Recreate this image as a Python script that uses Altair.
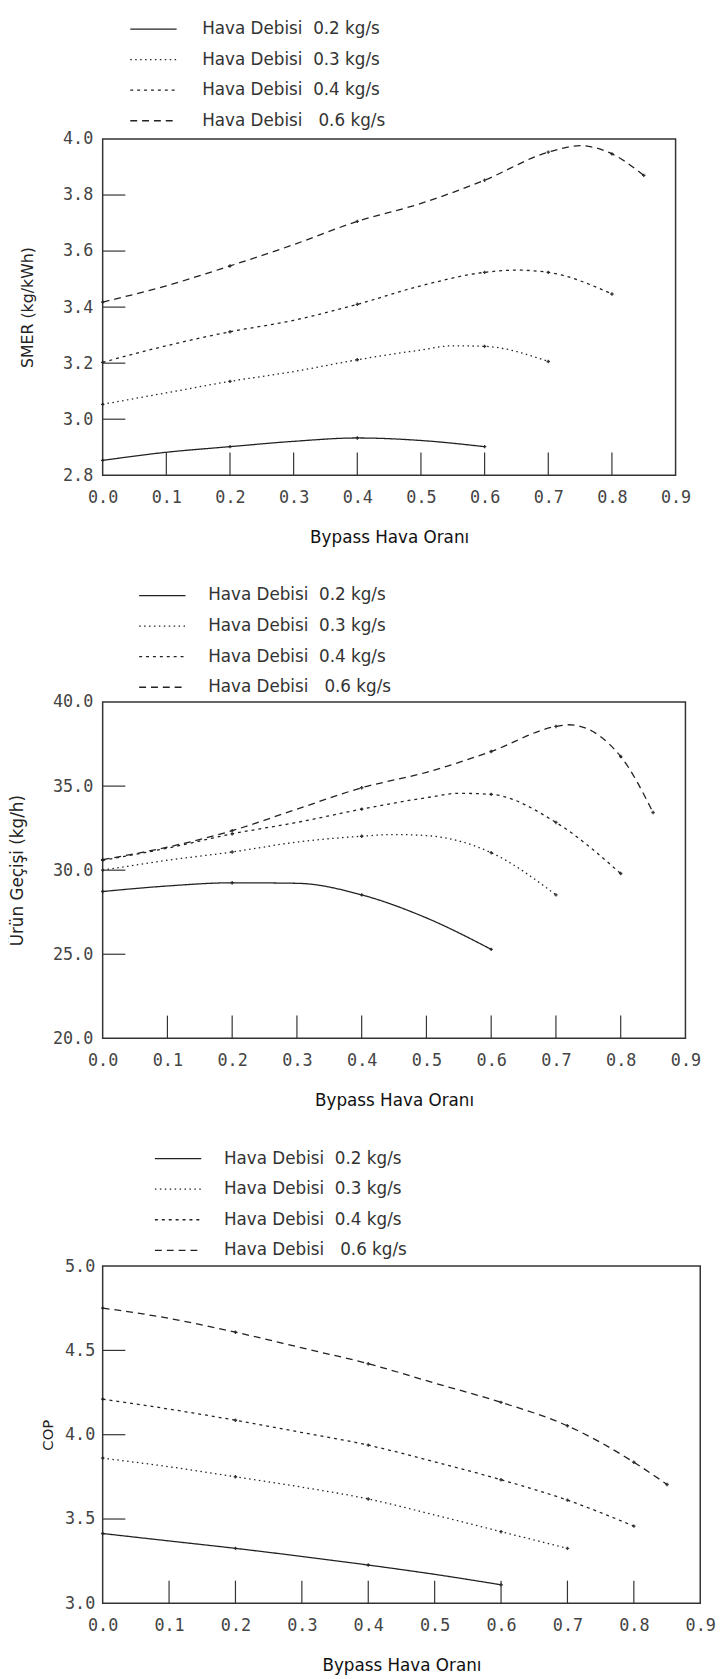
import altair as alt
import pandas as pd

# ---------------- data ----------------
SERIES = ["Hava Debisi\u00a0\u00a00.2 kg/s", "Hava Debisi\u00a0\u00a00.3 kg/s",
          "Hava Debisi\u00a0\u00a00.4 kg/s", "Hava Debisi\u00a0\u00a0\u00a00.6 kg/s"]
DASHES = [[1, 0], [1.5, 3.5], [3, 4], [7, 5]]
MARKER_X = [0.0, 0.2, 0.4, 0.6, 0.7, 0.8, 0.85]

X_TICK_LABELS = [0.0, 0.1, 0.2, 0.3, 0.4, 0.5, 0.6, 0.7, 0.8, 0.9]
X_INNER_TICKS = [0.1, 0.2, 0.3, 0.4, 0.5, 0.6, 0.7, 0.8]

# SMER (kg/kWh)
SMER_X_02 = [0.0, 0.1, 0.2, 0.3, 0.4, 0.5, 0.6]
SMER_02 = [2.853, 2.882, 2.902, 2.921, 2.933, 2.924, 2.902]
SMER_X_03 = [0.0, 0.1, 0.2, 0.3, 0.4, 0.5, 0.55, 0.6, 0.7]
SMER_03 = [3.053, 3.094, 3.135, 3.170, 3.212, 3.247, 3.262, 3.260, 3.206]
SMER_X_04 = [0.0, 0.1, 0.2, 0.3, 0.4, 0.5, 0.6, 0.65, 0.7, 0.8]
SMER_04 = [3.203, 3.262, 3.312, 3.353, 3.410, 3.476, 3.524, 3.532, 3.524, 3.447]
SMER_X_06 = [0.0, 0.1, 0.2, 0.3, 0.4, 0.5, 0.6, 0.7, 0.75, 0.8, 0.85]
SMER_06 = [3.418, 3.476, 3.547, 3.623, 3.706, 3.770, 3.853, 3.953, 3.976, 3.947, 3.870]
SMER_Y_LABELS = [2.8, 3.0, 3.2, 3.4, 3.6, 3.8, 4.0]
SMER_Y_TICKS = [3.0, 3.2, 3.4, 3.6, 3.8]

# Urun gecisi (kg/h)
URUN_X_02 = [0.0, 0.1, 0.2, 0.3, 0.4, 0.5, 0.6]
URUN_02 = [28.73, 29.06, 29.25, 29.22, 28.53, 27.16, 25.29]
URUN_X_03 = [0.0, 0.1, 0.2, 0.3, 0.4, 0.45, 0.5, 0.6, 0.7]
URUN_03 = [30.00, 30.59, 31.08, 31.67, 32.02, 32.12, 32.06, 31.04, 28.53]
URUN_X_04 = [0.0, 0.1, 0.2, 0.3, 0.4, 0.5, 0.55, 0.6, 0.7, 0.8]
URUN_04 = [30.59, 31.31, 32.16, 32.84, 33.63, 34.31, 34.57, 34.51, 32.84, 29.80]
URUN_X_06 = [0.0, 0.1, 0.2, 0.3, 0.4, 0.5, 0.6, 0.7, 0.72, 0.8, 0.85]
URUN_06 = [30.63, 31.37, 32.35, 33.63, 34.90, 35.82, 37.06, 38.55, 38.65, 36.76, 33.43]
URUN_Y_LABELS = [20.0, 25.0, 30.0, 35.0, 40.0]
URUN_Y_TICKS = [25.0, 30.0, 35.0]

# COP
COP_X_02 = [0.0, 0.1, 0.2, 0.3, 0.4, 0.5, 0.6]
COP_02 = [3.414, 3.370, 3.326, 3.278, 3.227, 3.172, 3.110]
COP_X_03 = [0.0, 0.1, 0.2, 0.3, 0.4, 0.5, 0.6, 0.7]
COP_03 = [3.861, 3.810, 3.751, 3.689, 3.619, 3.524, 3.425, 3.326]
COP_X_04 = [0.0, 0.1, 0.2, 0.3, 0.4, 0.5, 0.6, 0.7, 0.8]
COP_04 = [4.211, 4.152, 4.086, 4.013, 3.938, 3.839, 3.733, 3.612, 3.458]
COP_X_06 = [0.0, 0.1, 0.2, 0.3, 0.4, 0.5, 0.6, 0.7, 0.8, 0.85]
COP_06 = [4.751, 4.690, 4.608, 4.515, 4.421, 4.306, 4.192, 4.053, 3.837, 3.705]
COP_Y_LABELS = [3.0, 3.5, 4.0, 4.5, 5.0]
COP_Y_TICKS = [3.5, 4.0, 4.5]

X_TITLE = "Bypass Hava Oranı"
INK = "#222222"
# legend symbol: a long horizontal stroke drawn with a small symbol size
SYMBOL_PATH = "M-4,0H4"
SYMBOL_SIZE = 138


def long_df(xs_list, ys_list):
    rows = []
    for name, xs, ys in zip(SERIES, xs_list, ys_list):
        for xv, yv in zip(xs, ys):
            rows.append({"x": xv, "y": yv, "series": name,
                         "marker": any(abs(xv - m) < 1e-9 for m in MARKER_X)})
    return pd.DataFrame(rows)


def panel(df, y_title, y_domain, y_labels, y_ticks, width, height,
          legend_x, legend_y, title_pad, label_pad_y, title_size, label_offset):
    xs = alt.Scale(domain=[0, 0.9], nice=False, zero=False)
    ys = alt.Scale(domain=y_domain, nice=False, zero=False)
    xaxis = alt.Axis(values=X_TICK_LABELS, format=".1f", ticks=False, domain=False,
                     grid=False, labelFlush=False, labelOverlap=False,
                     labelFont="DejaVu Sans Mono", labelFontSize=17, labelColor="#444",
                     labelPadding=15, titleFont="DejaVu Sans", titleFontSize=17,
                     titleFontWeight="normal", titleColor="#111", titlePadding=24)
    yaxis = alt.Axis(values=y_labels, format=".1f", ticks=False, domain=False,
                     grid=False, labelOverlap=False,
                     labelFont="DejaVu Sans Mono", labelFontSize=17, labelColor="#444",
                     labelPadding=label_pad_y, titleFont="DejaVu Sans",
                     titleFontSize=title_size, titleFontWeight="normal",
                     titleColor="#222", titlePadding=title_pad)
    X = alt.X("x:Q", scale=xs, axis=xaxis, title=X_TITLE)
    Y = alt.Y("y:Q", scale=ys, axis=yaxis, title=y_title)

    legend = alt.Legend(orient="none", legendX=legend_x, legendY=legend_y,
                        direction="vertical", symbolType=SYMBOL_PATH,
                        symbolSize=SYMBOL_SIZE,
                        symbolStrokeWidth=1.3, symbolStrokeColor=INK,
                        labelFont="DejaVu Sans", labelFontSize=17, labelColor="#333",
                        labelOffset=label_offset, labelLimit=400, rowPadding=13,
                        padding=0)

    lines = alt.Chart(df).mark_line(interpolate="monotone", color=INK,
                                    strokeWidth=1.3).encode(
        x=X, y=Y,
        strokeDash=alt.StrokeDash("series:N", title=None,
                                  scale=alt.Scale(domain=SERIES, range=DASHES),
                                  legend=legend),
        detail="series:N")

    pts = alt.Chart(df).transform_filter("datum.marker").mark_point(
        shape="cross", size=12, filled=True, color=INK, opacity=0.9).encode(x=X, y=Y)

    xt = alt.Chart(pd.DataFrame({"x": X_INNER_TICKS})).mark_rule(
        color="#333", strokeWidth=1.2).encode(
        x=X, y=alt.value(height), y2=alt.value(height - 23))
    yt = alt.Chart(pd.DataFrame({"y": y_ticks})).mark_rule(
        color="#333", strokeWidth=1.2).encode(
        y=Y, x=alt.value(0), x2=alt.value(23))

    return alt.layer(lines, pts, xt, yt).properties(width=width, height=height)


top = panel(long_df([SMER_X_02, SMER_X_03, SMER_X_04, SMER_X_06],
                    [SMER_02, SMER_03, SMER_04, SMER_06]),
            "SMER  (kg/kWh)", [2.8, 4.0], SMER_Y_LABELS, SMER_Y_TICKS,
            581, 341, 43, -120, 27, 10, 16, 41)
mid = panel(long_df([URUN_X_02, URUN_X_03, URUN_X_04, URUN_X_06],
                    [URUN_02, URUN_03, URUN_04, URUN_06]),
            "Ürün Geçişi (kg/h)", [20, 40], URUN_Y_LABELS, URUN_Y_TICKS,
            591, 341, 52, -116.5, 26, 10, 17, 38)
bot = panel(long_df([COP_X_02, COP_X_03, COP_X_04, COP_X_06],
                    [COP_02, COP_03, COP_04, COP_06]),
            "COP", [3.0, 5.0], COP_Y_LABELS, COP_Y_TICKS,
            606, 342, 68, -117.5, 9, 8, 15, 38)

chart = alt.concat(top, mid, bot, columns=1, spacing=40, align="none").properties(
    padding=0).resolve_scale(strokeDash="independent").resolve_legend(
    strokeDash="independent").configure_view(stroke="#333", strokeWidth=1.5)

chart.save("out.html", embed_options={"renderer": "svg", "actions": False})
